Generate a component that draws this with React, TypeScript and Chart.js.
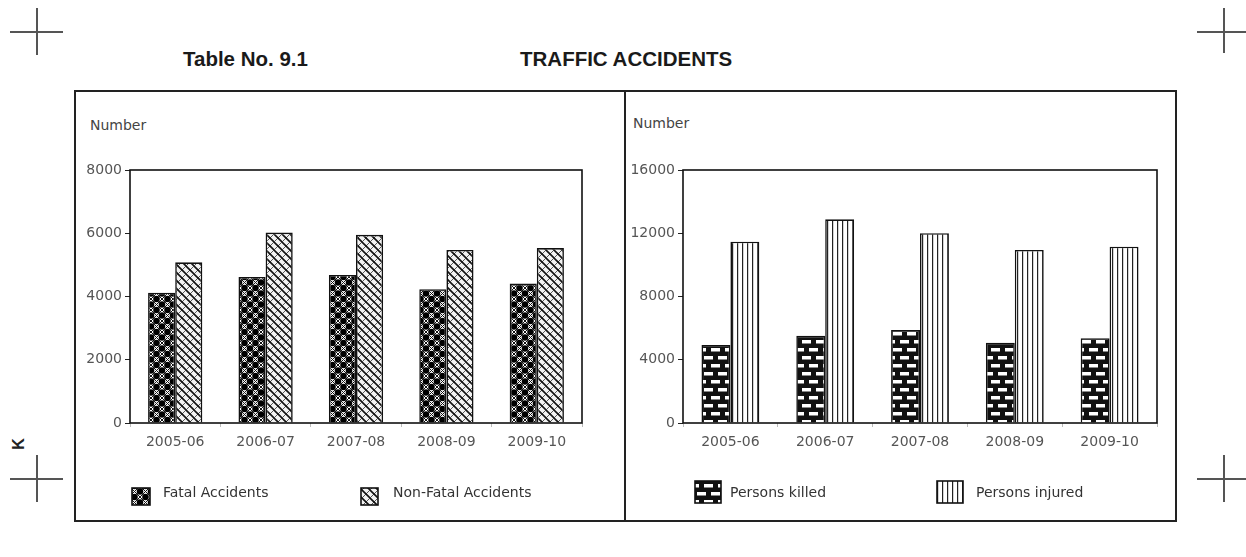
import React, { useEffect, useRef } from 'react';
import { Chart, registerables } from 'chart.js';

Chart.register(...registerables);

// ---------- DATA ----------
const years = ['2005-06', '2006-07', '2007-08', '2008-09', '2009-10'];
const fatalAccidents = [4120, 4620, 4680, 4230, 4410];
const nonFatalAccidents = [5080, 6020, 5950, 5470, 5530];
const personsKilled = [4930, 5520, 5880, 5080, 5360];
const personsInjured = [11470, 12880, 12000, 10940, 11150];
const accidentTicks = [0, 2000, 4000, 6000, 8000];
const personTicks = [0, 4000, 8000, 12000, 16000];
const seriesLabelsLeft = ['Fatal Accidents', 'Non-Fatal Accidents'];
const seriesLabelsRight = ['Persons killed', 'Persons injured'];

const TICK_FONT = { family: '"DejaVu Sans", sans-serif', size: 14 };

type Draw = (g: CanvasRenderingContext2D, w: number, h: number) => void;

function makePattern(ctx: CanvasRenderingContext2D, w: number, h: number, draw: Draw) {
  const c = document.createElement('canvas');
  c.width = w;
  c.height = h;
  const g = c.getContext('2d') as CanvasRenderingContext2D;
  draw(g, w, h);
  return ctx.createPattern(c, 'repeat') as CanvasPattern;
}

const drawFatal: Draw = (g, w, h) => {
  g.fillStyle = '#fff';
  g.fillRect(0, 0, w, h);
  g.fillStyle = '#000';
  const r = 3.3;
  [[w / 2, 0], [0, h / 2], [w, h / 2], [w / 2, h]].forEach(([x, y]) => {
    g.beginPath();
    g.arc(x, y, r, 0, Math.PI * 2);
    g.fill();
  });
  g.strokeStyle = '#111';
  g.lineWidth = 1;
  g.beginPath();
  g.moveTo(0, 0); g.lineTo(w, h);
  g.moveTo(w, 0); g.lineTo(0, h);
  g.stroke();
};

const drawNonFatal: Draw = (g, w, h) => {
  g.fillStyle = '#f2f2f2';
  g.fillRect(0, 0, w, h);
  g.strokeStyle = '#555';
  g.lineWidth = 1;
  g.beginPath();
  g.moveTo(w, 0); g.lineTo(0, h);
  g.moveTo(w * 2, 0); g.lineTo(w, h);
  g.moveTo(0, 0); g.lineTo(-w, h);
  g.stroke();
  g.strokeStyle = '#111';
  g.lineWidth = 1.6;
  g.beginPath();
  g.moveTo(0, 0); g.lineTo(w, h);
  g.moveTo(-w, 0); g.lineTo(0, h);
  g.moveTo(w, 0); g.lineTo(2 * w, h);
  g.stroke();
};

const drawBrick: Draw = (g, w, h) => {
  g.fillStyle = '#111';
  g.fillRect(0, 0, w, h);
  g.fillStyle = '#fff';
  g.fillRect(2, 2, 9, 3.5);
  g.fillRect(9, 10, 9, 3.5);
  g.fillRect(9 - w, 10, 9, 3.5);
};

const drawVertical: Draw = (g, w, h) => {
  g.fillStyle = '#fff';
  g.fillRect(0, 0, w, h);
  g.fillStyle = '#222';
  g.fillRect(2, 0, 1.2, h);
};

const framePlugin = {
  id: 'frameBox',
  afterDatasetsDraw(chart: any) {
    const { ctx, chartArea: a } = chart;
    ctx.save();
    ctx.strokeStyle = '#111';
    ctx.lineWidth = 1.6;
    ctx.strokeRect(a.left, a.top, a.right - a.left, a.bottom - a.top);
    ctx.restore();
  },
};

const legendPlugin = {
  id: 'patternLegend',
  afterDraw(chart: any, _args: any, opts: any) {
    const { ctx } = chart;
    const items = opts.items || [];
    ctx.save();
    items.forEach((it: any, i: number) => {
      const ds = chart.data.datasets[i];
      ctx.fillStyle = ds.backgroundColor;
      ctx.fillRect(it.x, it.y, it.w, it.h);
      ctx.strokeStyle = '#111';
      ctx.lineWidth = 1.6;
      ctx.strokeRect(it.x, it.y, it.w, it.h);
      ctx.fillStyle = '#333';
      ctx.font = '14px "DejaVu Sans", sans-serif';
      ctx.textBaseline = 'middle';
      ctx.textAlign = 'left';
      ctx.fillText(ds.label, it.tx, opts.textY);
    });
    ctx.restore();
  },
};

function buildChart(
  canvas: HTMLCanvasElement,
  labels: string[],
  series: { label: string; data: number[]; draw: Draw; tw: number; th: number }[],
  ticks: number[],
  yWidth: number,
  padRight: number,
  pct: number,
  legendItems: any[]
) {
  const ctx = canvas.getContext('2d') as CanvasRenderingContext2D;
  return new Chart(ctx, {
    type: 'bar',
    data: {
      labels,
      datasets: series.map((s) => ({
        label: s.label,
        data: s.data,
        backgroundColor: makePattern(ctx, s.tw, s.th, s.draw),
        borderColor: '#111',
        borderWidth: 1.6,
        barPercentage: 1,
        categoryPercentage: pct,
      })),
    },
    options: {
      responsive: false,
      animation: false,
      layout: { padding: { left: 0, right: padRight, top: 80, bottom: 69 } },
      plugins: {
        legend: { display: false },
        tooltip: { enabled: false },
        patternLegend: { items: legendItems, textY: 403 },
      } as any,
      scales: {
        x: {
          grid: { display: true, offset: true, drawOnChartArea: false, drawTicks: true, tickLength: 4, color: '#bbb' },
          border: { display: false },
          ticks: { color: '#555', font: TICK_FONT, padding: 7, maxRotation: 0 },
          afterFit: (s: any) => { s.height = 30; },
        },
        y: {
          min: ticks[0],
          max: ticks[ticks.length - 1],
          grid: { display: true, drawOnChartArea: false, drawTicks: true, tickLength: 5, color: '#222' },
          border: { display: false },
          ticks: {
            stepSize: ticks[1] - ticks[0],
            color: '#555',
            font: TICK_FONT,
            padding: 3,
            callback: (v: any) => String(v),
          },
          afterFit: (s: any) => { s.width = yWidth; },
        },
      },
    } as any,
    plugins: [framePlugin, legendPlugin],
  });
}

const abs = (style: React.CSSProperties): React.CSSProperties => ({ position: 'absolute', ...style });

function Cross({ x, y, hx0, hx1, vy0, vy1 }: { x: number; y: number; hx0: number; hx1: number; vy0: number; vy1: number }) {
  return (
    <>
      <div style={abs({ left: hx0, top: y - 0.75, width: hx1 - hx0, height: 1.5, background: '#555' })} />
      <div style={abs({ left: x - 0.75, top: vy0, width: 1.5, height: vy1 - vy0, background: '#555' })} />
    </>
  );
}

export default function App() {
  const leftRef = useRef<HTMLCanvasElement>(null);
  const rightRef = useRef<HTMLCanvasElement>(null);

  useEffect(() => {
    const c1 = buildChart(
      leftRef.current as HTMLCanvasElement,
      years,
      [
        { label: seriesLabelsLeft[0], data: fatalAccidents, draw: drawFatal, tw: 11, th: 11 },
        { label: seriesLabelsLeft[1], data: nonFatalAccidents, draw: drawNonFatal, tw: 8, th: 8 },
      ],
      accidentTicks,
      56,
      43,
      0.6,
      [
        { x: 58, y: 398, w: 18, h: 17, tx: 89 },
        { x: 287, y: 398, w: 17, h: 17, tx: 319 },
      ]
    );
    const c2 = buildChart(
      rightRef.current as HTMLCanvasElement,
      years,
      [
        { label: seriesLabelsRight[0], data: personsKilled, draw: drawBrick, tw: 14, th: 16 },
        { label: seriesLabelsRight[1], data: personsInjured, draw: drawVertical, tw: 5, th: 5 },
      ],
      personTicks,
      58,
      20,
      0.61,
      [
        { x: 70, y: 391, w: 26, h: 22, tx: 105 },
        { x: 312, y: 391, w: 26, h: 22, tx: 351 },
      ]
    );
    return () => {
      c1.destroy();
      c2.destroy();
    };
  }, []);

  const labelFont: React.CSSProperties = {
    fontFamily: '"DejaVu Sans", sans-serif',
    fontSize: 14,
    lineHeight: '16px',
    color: '#444',
    whiteSpace: 'nowrap',
  };
  const titleFont: React.CSSProperties = {
    fontFamily: '"Liberation Sans", Arial, sans-serif',
    fontWeight: 'bold',
    fontSize: 20.5,
    lineHeight: '24px',
    color: '#1a1a1a',
    whiteSpace: 'nowrap',
  };

  return (
    <div style={{ position: 'fixed', left: 0, top: 0, width: 1246, height: 557, background: '#fff', overflow: 'hidden' }}>
      <Cross x={37} y={32} hx0={10} hx1={63} vy0={8} vy1={55} />
      <Cross x={1224} y={32} hx0={1197} hx1={1246} vy0={8} vy1={53} />
      <Cross x={37} y={479} hx0={10} hx1={63} vy0={455} vy1={502} />
      <Cross x={1224} y={479} hx0={1197} hx1={1246} vy0={455} vy1={502} />

      <div style={abs({ ...titleFont, left: 183, top: 47 })}>Table No. 9.1</div>
      <div style={abs({ ...titleFont, left: 520, top: 47 })}>TRAFFIC ACCIDENTS</div>

      <div
        style={abs({
          left: 13,
          top: 435,
          fontFamily: '"Liberation Sans", Arial, sans-serif',
          fontWeight: 'bold',
          fontSize: 16,
          lineHeight: '18px',
          color: '#222',
          transform: 'rotate(-90deg)',
        })}
      >
        K
      </div>

      <div style={abs({ left: 74, top: 90, width: 1103, height: 432, border: '2px solid #222', boxSizing: 'border-box' })} />
      <div style={abs({ left: 624, top: 90, width: 2, height: 432, background: '#222' })} />

      <div style={abs({ ...labelFont, left: 90, top: 117 })}>Number</div>
      <div style={abs({ ...labelFont, left: 633, top: 115 })}>Number</div>

      <canvas ref={leftRef} width={551} height={432} style={abs({ left: 74, top: 90 })} />
      <canvas ref={rightRef} width={552} height={432} style={abs({ left: 625, top: 90 })} />
    </div>
  );
}
